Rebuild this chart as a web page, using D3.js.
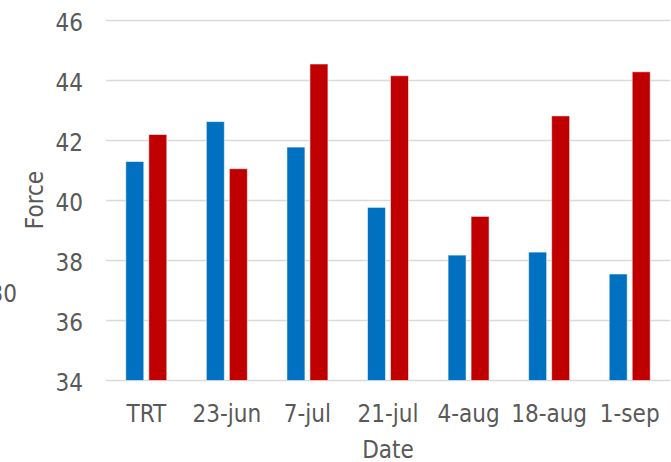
<!DOCTYPE html>
<html><head><meta charset="utf-8">
<script src="https://cdn.jsdelivr.net/npm/d3@7"></script>
<style>body{margin:0;background:#fff}svg{display:block}text{font-family:"DejaVu Sans Condensed","DejaVu Sans",sans-serif;font-stretch:condensed;fill:#595959}</style>
</head><body><svg id="c" width="671" height="462"></svg>
<script>
const categories = ["TRT","23-jun","7-jul","21-jul","4-aug","18-aug","1-sep"];
const seriesNames = ["A","B"];
const seriesA = [41.3, 42.63, 41.78, 39.77, 38.18, 38.28, 37.55];
const seriesB = [42.2, 41.06, 44.55, 44.16, 39.47, 42.82, 44.29];
const yTicks = [34,36,38,40,42,44,46];
const colors = ["#0070C0","#C00000"];

const svg = d3.select("#c");
const pLeft = 106, pRight = 670, pTop = 20.5, pBottom = 380.5;
const fs = 24;
const y = d3.scaleLinear().domain([34,46]).range([pBottom, pTop]);
const x0 = d3.scaleBand().domain(categories).range([pLeft, pRight]).padding(0);
const groupW = 41;
const x1 = d3.scaleBand().domain(seriesNames).range([0, groupW]).paddingInner(5/23);

// gridlines
svg.append("g").selectAll("line").data(yTicks).join("line")
  .attr("x1", pLeft).attr("x2", pRight)
  .attr("y1", d => y(d)).attr("y2", d => y(d))
  .attr("stroke", "#d9d9d9").attr("stroke-width", 1.4);

// y labels
svg.append("g").selectAll("text").data(yTicks).join("text")
  .attr("x", 83).attr("y", d => y(d) + 10.2)
  .attr("text-anchor", "end").attr("font-size", fs).text(d => d);

// bars
const data = categories.map((c,i) => ({c, vals:[seriesA[i], seriesB[i]]}));
const g = svg.append("g").selectAll("g").data(data).join("g")
  .attr("transform", d => `translate(${x0(d.c) + (x0.bandwidth()-groupW)/2},0)`);
g.selectAll("rect").data(d => d.vals.map((v,j) => ({v, s: seriesNames[j], j})))
  .join("rect")
  .attr("x", d => x1(d.s)).attr("width", x1.bandwidth())
  .attr("y", d => y(d.v)).attr("height", d => y(34) - y(d.v))
  .attr("fill", d => colors[d.j])
  .attr("stroke", "rgba(255,255,255,0.55)").attr("stroke-width", 1);

// x labels
svg.append("g").selectAll("text").data(categories).join("text")
  .attr("x", d => x0(d) + x0.bandwidth()/2).attr("y", 421.5)
  .attr("text-anchor", "middle").attr("font-size", fs).text(d => d);

// axis titles
svg.append("text").attr("x", (pLeft+pRight)/2).attr("y", 458)
  .attr("text-anchor", "middle").attr("font-size", fs).text("Date");
svg.append("text").attr("transform", "translate(43,200) rotate(-90)")
  .attr("text-anchor", "middle").attr("font-size", fs).text("Force");
svg.append("text").attr("x", 17).attr("y", 301.5)
  .attr("text-anchor", "end").attr("font-size", fs).text("30");
</script></body></html>
